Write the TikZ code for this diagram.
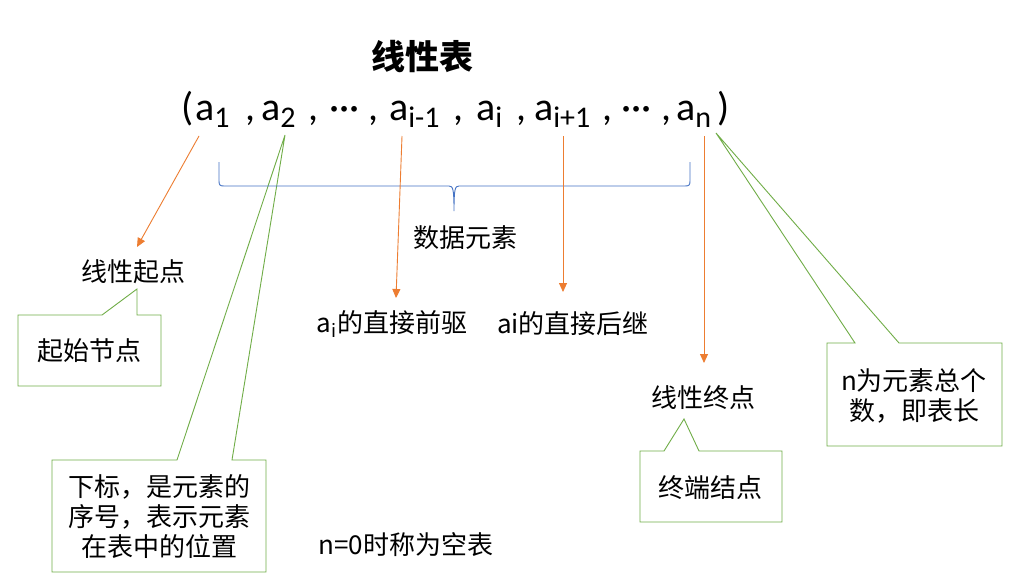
\documentclass[tikz,border=0pt]{standalone}
\usepackage{fontspec}
\setmainfont{Carlito}
\newfontfamily\cjk{Noto Sans CJK SC}
\usetikzlibrary{arrows.meta,calc}
\definecolor{orng}{HTML}{ED7D31}
\definecolor{grn}{HTML}{70AD47}
\definecolor{blu}{HTML}{4472C4}
\newcommand\sbs[1]{\raisebox{-7pt}{\fontsize{30}{30}\selectfont #1}}
\begin{document}
\begin{tikzpicture}[x=1pt,y=-1pt,
 seq/.style={anchor=base west,inner sep=0pt,font=\fontsize{40}{40}\selectfont},
 lbl/.style={font=\cjk\fontsize{26}{30}\selectfont,inner sep=0pt,align=center},
 arr/.style={orng,line width=0.9pt,-{Triangle[length=9pt,width=8pt]}},
 callout/.style={grn,line width=0.9pt,line join=miter},
 brace/.style={blu,line width=0.9pt}]
\useasboundingbox[fill=white] (0,0) rectangle (1011,586);

% title
\node[font=\cjk\bfseries\fontsize{34}{34}\selectfont,inner sep=0pt] (title) at (422,57) {线性表};

% sequence
\node[seq] (lp) at (181,120) {(};
\node[seq] (a1) at (195,120) {a\sbs{1}};
\node[seq] (c1) at (245,120) {,};
\node[seq] (a2) at (261,120) {a\sbs{2}};
\node[seq] (c2) at (308,120) {,};
\node[seq] (d1) at (329,120) {···};
\node[seq] (c3) at (368,120) {,};
\node[seq] (aim) at (389,120) {a\sbs{i-1}};
\node[seq] (c4) at (453,120) {,};
\node[seq] (ai) at (476,120) {a\sbs{i}};
\node[seq] (c5) at (516,120) {,};
\node[seq] (aip) at (534,120) {a\sbs{i+1}};
\node[seq] (c6) at (602,120) {,};
\node[seq] (d2) at (621,120) {···};
\node[seq] (c7) at (661,120) {,};
\node[seq] (an) at (676,120) {a\sbs{n}};
\node[seq] (rp) at (717,120) {)};

% anchor points under the sequence
\coordinate (s1) at (199,136);
\coordinate (s2) at (285,135);
\coordinate (s3) at (402,136);
\coordinate (s4) at (563,136);
\coordinate (s5) at (704,136);
\coordinate (s6) at (716,133);

% callouts
\draw[callout] (18,315) -- (102,315) -- (137,289) -- (137,315) -- (161,315) -- (161,386) -- (18,386) -- cycle;
\draw[callout] (52,460) -- (177,460) -- (s2) -- (232,460) -- (266,460) -- (266,572) -- (52,572) -- cycle;
\draw[callout] (640,451) -- (664,451) -- (684,419) -- (699,451) -- (782,451) -- (782,522) -- (640,522) -- cycle;
\draw[callout] (827,343) -- (855,343) -- (s6) -- (899,343) -- (1002,343) -- (1002,446) -- (827,446) -- cycle;

% brace
\draw[brace] (219,162) -- (219,181) .. controls (219,185) and (220,186) .. (224,186) -- (449,186)
  .. controls (453,186) and (454,189) .. (454,211)
  .. controls (454,189) and (455,186) .. (459,186) -- (685,186)
  .. controls (689,186) and (690,185) .. (690,181) -- (690,162);

% labels
\node[lbl] (qd) at (133,272) {线性起点};
\node[lbl] (qs) at (89,351) {起始节点};
\node[lbl] (sj) at (465,238) {数据元素};
\node[lbl] (qq) at (392,324) {a\textsubscript{i}的直接前驱};
\node[lbl] (hj) at (573,324) {ai的直接后继};
\node[lbl] (zd) at (703,398) {线性终点};
\node[lbl] (zj) at (710,488) {终端结点};
\node[lbl] (nb) at (914,396) {n为元素总个\\数，即表长};
\node[lbl] (xb) at (159,517) {下标，是元素的\\序号，表示元素\\在表中的位置};
\node[lbl] (kb) at (406,545) {n=0时称为空表};

% arrows
\draw[arr] (s1) -- ($(qd.center)+(4,-25)$);
\draw[arr] (s3) -- ($(qq.center)+(4,-26)$);
\draw[arr] (s4) -- ($(hj.center)+(-10,-32)$);
\draw[arr] (s5) -- ($(zd.center)+(1,-35)$);
\end{tikzpicture}
\end{document}
